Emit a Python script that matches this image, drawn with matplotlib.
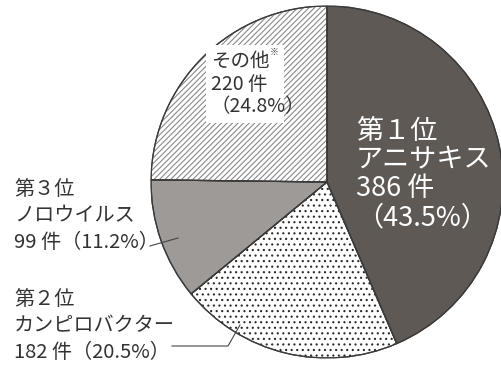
import matplotlib
matplotlib.use("Agg")
import matplotlib.pyplot as plt
from matplotlib.patches import Wedge, Rectangle

plt.rcParams['font.family'] = ['Noto Sans CJK JP', 'DejaVu Sans']
plt.rcParams['hatch.linewidth'] = 0.8

categories = ['アニサキス', 'カンピロバクター', 'ノロウイルス', 'その他']
counts = [386, 182, 99, 220]
percents = [43.5, 20.5, 11.2, 24.8]
ranks = ['第１位', '第２位', '第３位', '']

W, H = 501, 365
fig = plt.figure(figsize=(W / 100, H / 100), dpi=100)
cx, cy, R = 327, 182, 176
ax = fig.add_axes([(cx - R) / W, (H - cy - R) / H, 2 * R / W, 2 * R / H])
ax.axis('off')

def d(px, py):
    return ((px - cx) / R, (cy - py) / R)

fills = ['#5e5955', 'white', '#9d9a97', 'white']
hatches = [None, '...', None, '//////']
hatch_cols = [None, '#2a2a2a', None, '#8a8888']

wedges, _ = ax.pie(counts, startangle=90, counterclock=False, colors=fills,
                   radius=1, wedgeprops=dict(edgecolor='#3a3a3a', linewidth=0.9))
ax.set_xlim(-1, 1)
ax.set_ylim(-1, 1)
ax.set_aspect('equal')
for w, h, hc in zip(wedges, hatches, hatch_cols):
    if h:
        hw = Wedge(w.center, w.r, w.theta1, w.theta2, facecolor='none',
                   edgecolor=hc, hatch=h, linewidth=0)
        ax.add_patch(hw)
for w in wedges:
    ax.add_patch(Wedge(w.center, w.r, w.theta1, w.theta2, facecolor='none',
                       edgecolor='#3a3a3a', linewidth=0.9))

tc = '#333333'
x0, y0 = d(356, 118)
ax.text(x0, y0, f"{ranks[0]}\n{categories[0]}\n{counts[0]} 件\n（{percents[0]}%）",
        color='white', fontsize=19.5, va='top', ha='left', linespacing=1.08)

# white box behind "その他" label
bx0, by0 = d(206, 123)
bx1, by1 = d(284, 45)
ax.add_patch(Rectangle((bx0, by0), bx1 - bx0, by1 - by0, facecolor='white',
                       edgecolor='none', zorder=2))
x0, y0 = d(211, 51)
ax.text(x0, y0, categories[3], color=tc, fontsize=14, va='top', ha='left', zorder=3)
x1, y1 = d(270, 48)
ax.text(x1, y1, "※", color=tc, fontsize=6.5, va='top', ha='left', zorder=3)
x0, y0 = d(211, 74)
ax.text(x0, y0, f"{counts[3]} 件\n（{percents[3]}%）",
        color=tc, fontsize=14, va='top', ha='left', linespacing=1.05, zorder=3)

x0, y0 = d(14, 179)
ax.text(x0, y0, f"{ranks[2]}\n{categories[2]}\n{counts[2]} 件（{percents[2]}%）",
        color=tc, fontsize=14.5, va='top', ha='left', linespacing=1.33, clip_on=False)
ax.plot(*zip(d(150, 246), d(178, 238)), color='#444444', lw=0.8, clip_on=False)

x0, y0 = d(14, 289)
ax.text(x0, y0, f"{ranks[1]}\n{categories[1]}\n{counts[1]} 件（{percents[1]}%）",
        color=tc, fontsize=14.5, va='top', ha='left', linespacing=1.33, clip_on=False)
ax.plot(*zip(d(172, 346), d(228, 346), d(240, 325)), color='#444444', lw=0.8, clip_on=False)

fig.savefig('out.png', dpi=100)
